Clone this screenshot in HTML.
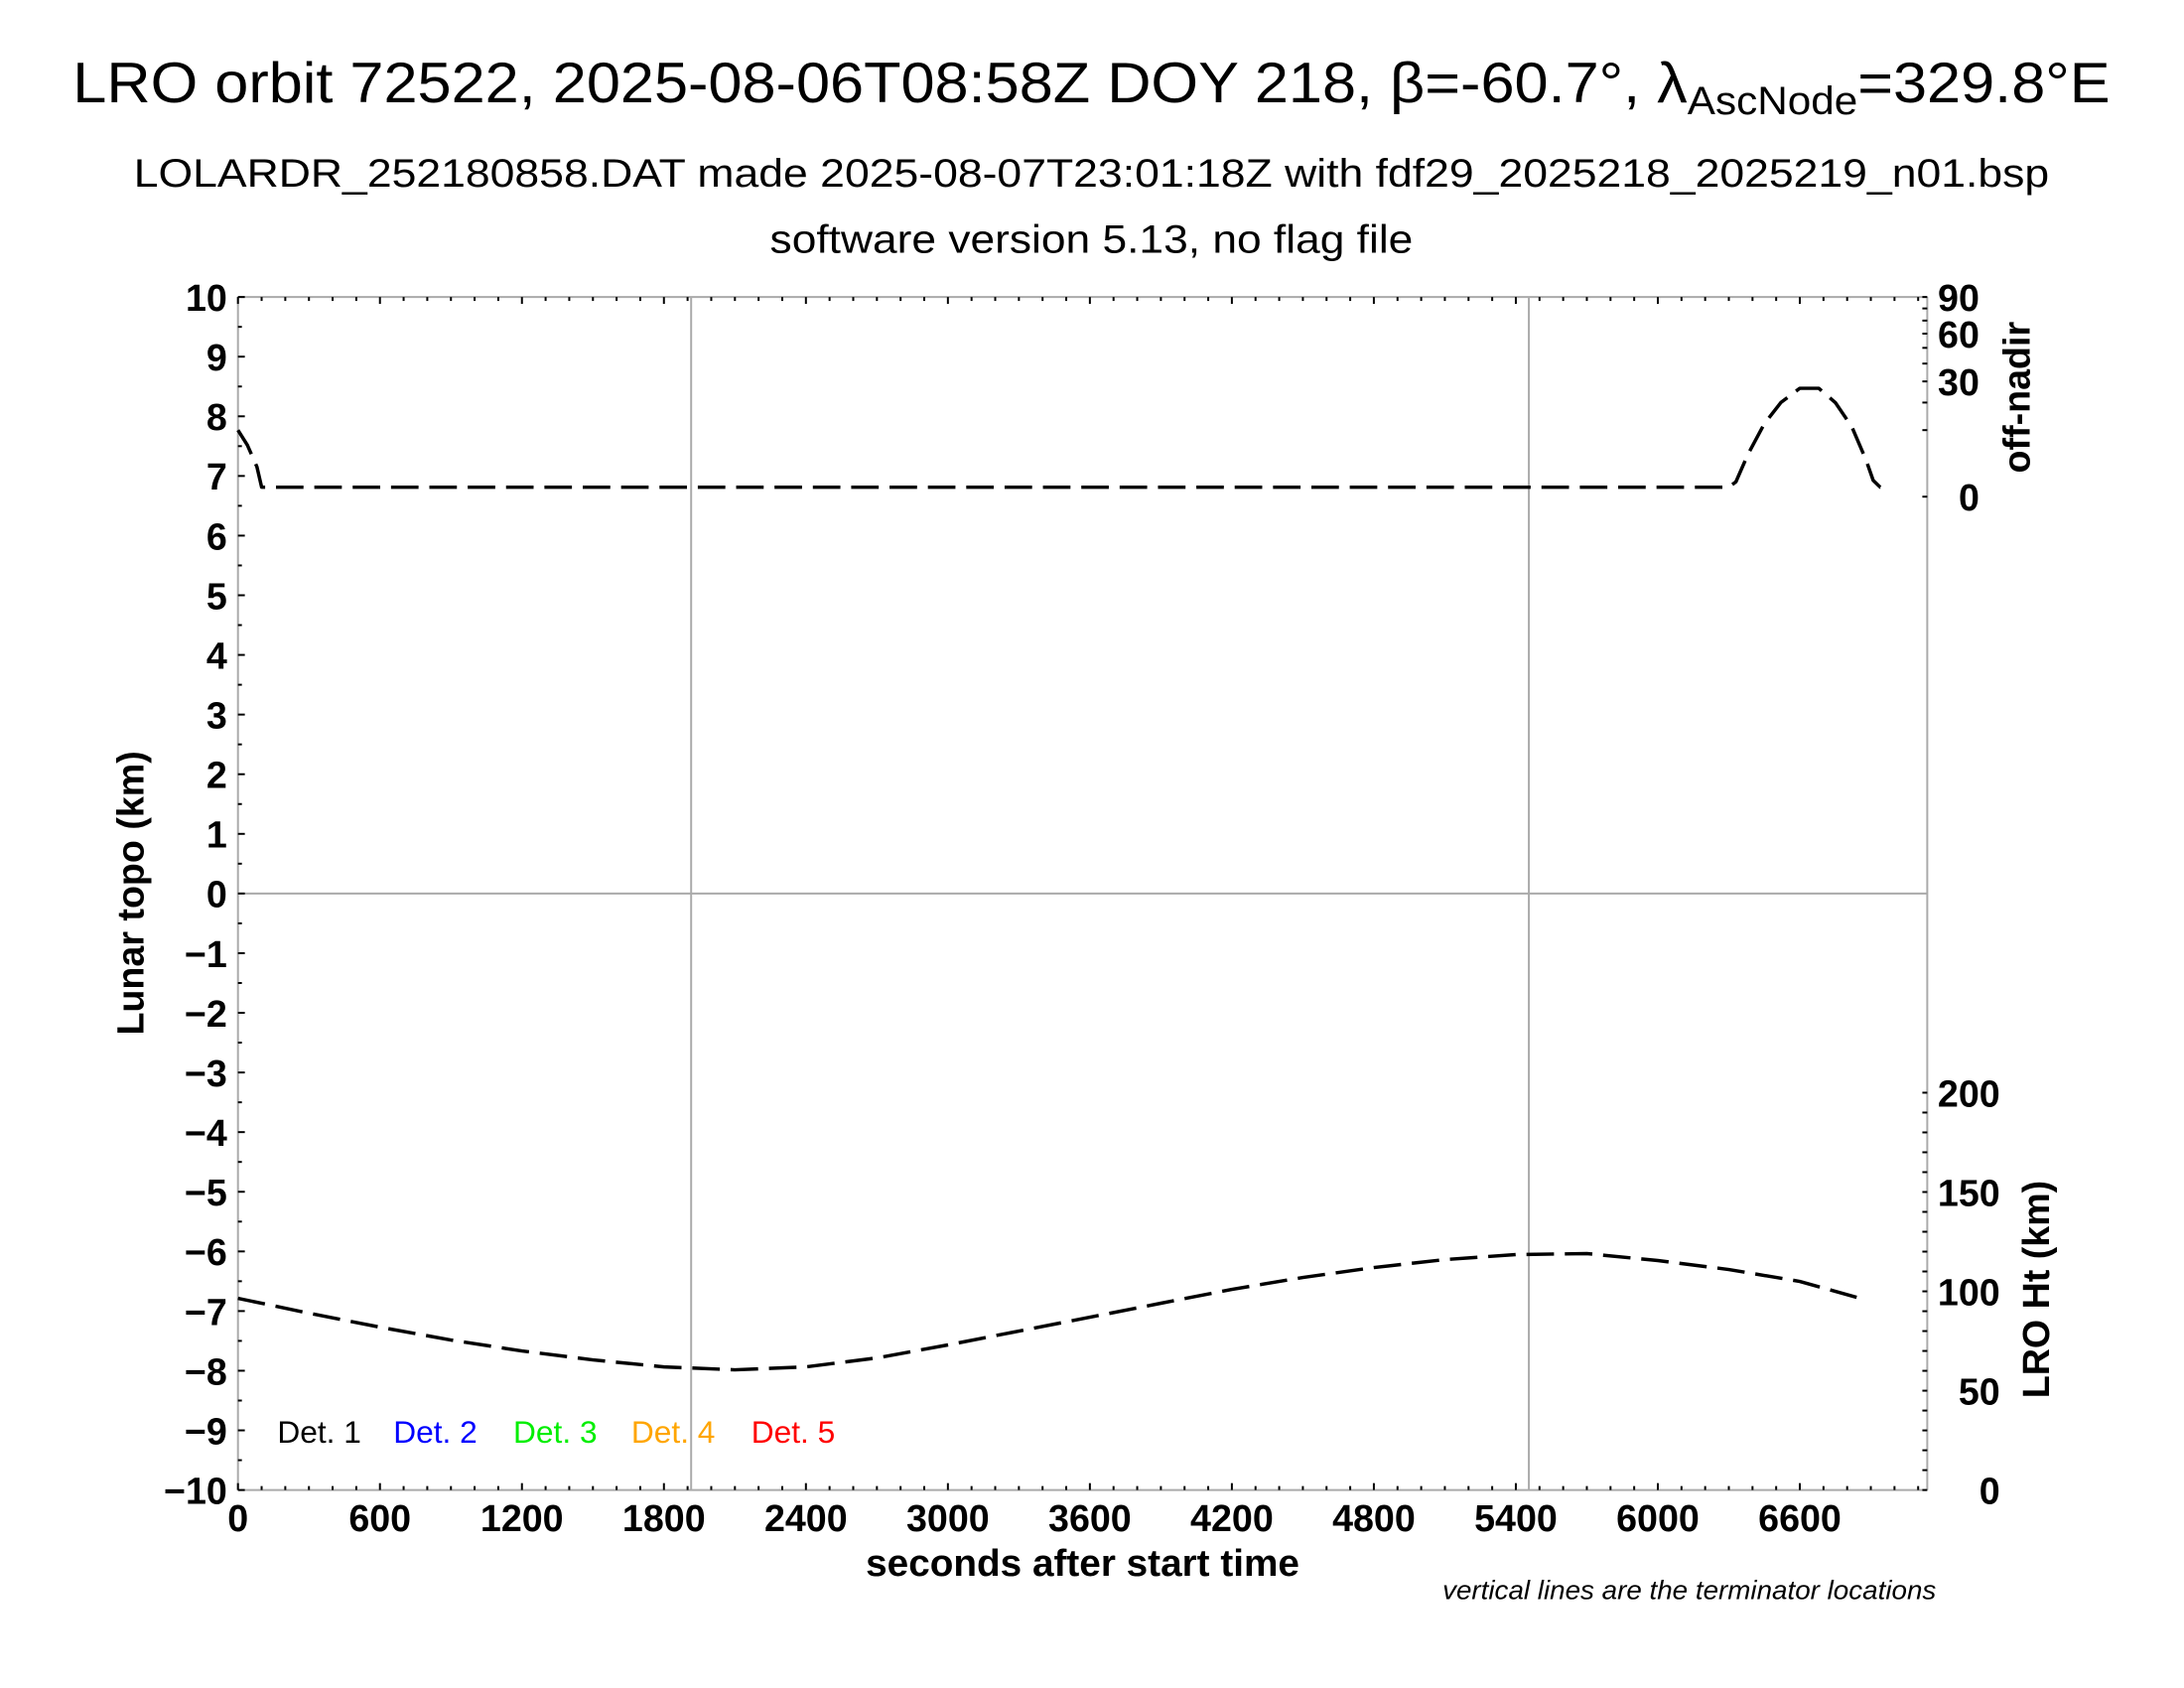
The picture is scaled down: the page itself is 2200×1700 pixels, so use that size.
<!DOCTYPE html>
<html><head><meta charset="utf-8"><style>
html,body{margin:0;padding:0;background:#fff;}
svg{display:block;font-family:"Liberation Sans",sans-serif;}
</style></head><body>
<svg id="chart" width="2200" height="1700" viewBox="0 0 2200 1700" xmlns="http://www.w3.org/2000/svg">
<rect width="2200" height="1700" fill="#fff"/>
<g transform="scale(0.9905)">
<text x="1110" y="104" font-size="58" text-anchor="middle" textLength="2072" lengthAdjust="spacingAndGlyphs">LRO orbit 72522, 2025-08-06T08:58Z DOY 218, β=-60.7°, λ<tspan font-size="40" dy="12">AscNode</tspan><tspan dy="-12">=329.8°E</tspan></text>
<text x="1110" y="190" font-size="40" text-anchor="middle" textLength="1948" lengthAdjust="spacingAndGlyphs">LOLARDR_252180858.DAT made 2025-08-07T23:01:18Z with fdf29_2025218_2025219_n01.bsp</text>
<text x="1110" y="257" font-size="40" text-anchor="middle" textLength="654" lengthAdjust="spacingAndGlyphs">software version 5.13, no flag file</text>
<g id="axes"></g>
<g id="series"></g>
<text x="1101" y="1602" font-size="38" font-weight="bold" text-anchor="middle" textLength="441" lengthAdjust="spacingAndGlyphs">seconds after start time</text>
<text transform="translate(146,908) rotate(-90)" font-size="38" font-weight="bold" text-anchor="middle">Lunar topo (km)</text>
<text transform="translate(2064,404) rotate(-90)" font-size="38" font-weight="bold" text-anchor="middle">off-nadir</text>
<text transform="translate(2084,1311) rotate(-90)" font-size="38" font-weight="bold" text-anchor="middle">LRO Ht (km)</text>
<text x="1969" y="1626" font-size="27" font-style="italic" text-anchor="end" textLength="502" lengthAdjust="spacingAndGlyphs">vertical lines are the terminator locations</text>
<g font-size="32">
<text x="282" y="1467" fill="#000">Det. 1</text>
<text x="400" y="1467" fill="#0000ff">Det. 2</text>
<text x="522" y="1467" fill="#00ee00">Det. 3</text>
<text x="642" y="1467" fill="#ffa500">Det. 4</text>
<text x="764" y="1467" fill="#ff0000">Det. 5</text>
</g>
</g>
</svg>
<script>
const xTicks = [0,600,1200,1800,2400,3000,3600,4200,4800,5400,6000,6600];
const yTicks = [10,9,8,7,6,5,4,3,2,1,0,-1,-2,-3,-4,-5,-6,-7,-8,-9,-10];
const yTickLabels = ["10","9","8","7","6","5","4","3","2","1","0","\u22121","\u22122","\u22123","\u22124","\u22125","\u22126","\u22127","\u22128","\u22129","\u221210"];
const nadirTicks = [0,30,60,90];
const htTicks = [0,50,100,150,200];
const terminators = [1915,5455];
const htTimes = [0,300,600,900,1200,1500,1800,2100,2400,2700,3000,3300,3600,3900,4200,4500,4800,5100,5400,5700,6000,6300,6600,6840];
const htValues = [96.5,89,82,75.5,70,65.5,62,60.5,62,66.5,73,80,87,94,101,107,112,116,118.5,119,115.5,111,105,97];
const nadirTimes = [0,40,80,100,200,1000,2000,3000,4000,5000,6000,6300,6330,6380,6450,6520,6600,6680,6750,6820,6880,6910,6940,6970];
const nadirValues = [10,6,2,0.2,0.2,0.2,0.2,0.2,0.2,0.2,0.2,0.2,0.5,4,12,20,26.5,26.5,20,11,3,0.6,0.2,0.2];

const L=242,R=1960,T=302,B=1515;
const X0=242, PX600=144.4;
function xs(t){return X0+t*PX600/600;}
function ys(v){return T+(10-v)*(B-T)/20;}
function nad(v){return 505-(505-302)*Math.sqrt(v/90);}
function hts(v){return 1515-v*(1515-1111)/200;}
const NS="http://www.w3.org/2000/svg";
const ax=document.getElementById('axes'), sr=document.getElementById('series');
function mk(tag,attrs,parent){const e=document.createElementNS(NS,tag);for(const k in attrs)e.setAttribute(k,attrs[k]);parent.appendChild(e);return e;}

let e;
e=mk('line',{x1:L,y1:T,x2:R,y2:T,stroke:'#aaa','stroke-width':2},ax);


e=mk('line',{x1:L,y1:T,x2:L,y2:B,stroke:'#aaa','stroke-width':2},ax);


e=mk('line',{x1:R,y1:T,x2:R,y2:B,stroke:'#aaa','stroke-width':2},ax);


e=mk('line',{x1:L,y1:B,x2:R,y2:B,stroke:'#aaa','stroke-width':2},ax);


e=mk('line',{x1:L,y1:ys(0),x2:R,y2:ys(0),stroke:'#aaa','stroke-width':2},ax);


terminators.forEach(t=>{
  const l=mk('line',{x1:xs(t),y1:T,x2:xs(t),y2:B,stroke:'#aaa','stroke-width':2},ax);
  
  
});
for(let t=0;t<=7100;t+=100){
  const big=t%600===0, x=xs(t);
  if(x>R)break;
  mk('line',{x1:x,y1:B,x2:x,y2:B-(big?7:4),stroke:'#000','stroke-width':2},ax);
  mk('line',{x1:x,y1:T,x2:x,y2:T+(big?7:4),stroke:'#000','stroke-width':2},ax);
}
xTicks.forEach(t=>{
  const tx=mk('text',{x:xs(t),y:1557,'font-size':38,'font-weight':'bold','text-anchor':'middle'},ax);
  tx.textContent=String(t);
  
  
});
for(let v=-10;v<=10;v+=0.5){
  const y=ys(v), big=Number.isInteger(v);
  mk('line',{x1:L,y1:y,x2:L+(big?7:4),y2:y,stroke:'#000','stroke-width':2},ax);
}
yTicks.forEach((v,i)=>{
  const tx=mk('text',{x:231,y:ys(v)+14,'font-size':38,'font-weight':'bold','text-anchor':'end'},ax);
  tx.textContent=yTickLabels[i];
  
  
});
[0,10,20,30,40,50,60,70,80,90].forEach(v=>{
  mk('line',{x1:R,y1:nad(v),x2:R-5,y2:nad(v),stroke:'#000','stroke-width':2},ax);
});
nadirTicks.forEach(v=>{
  const tx=mk('text',{x:2013,y:nad(v)+14,'font-size':38,'font-weight':'bold','text-anchor':'end'},ax);
  tx.textContent=String(v);
  
  
});
for(let v=0;v<=200;v+=10){
  mk('line',{x1:R,y1:hts(v),x2:R-5,y2:hts(v),stroke:'#000','stroke-width':2},ax);
}
htTicks.forEach(v=>{
  const tx=mk('text',{x:2034,y:hts(v)+14,'font-size':38,'font-weight':'bold','text-anchor':'end'},ax);
  tx.textContent=String(v);
  
  
});
const hp=mk('path',{d:htTimes.map((t,i)=>(i?'L':'M')+xs(t).toFixed(1)+','+hts(htValues[i]).toFixed(1)).join(''),fill:'none',stroke:'#000','stroke-width':3.5,'stroke-dasharray':'28,11','stroke-linejoin':'round'},sr);


const np=mk('path',{d:nadirTimes.map((t,i)=>(i?'L':'M')+xs(t).toFixed(1)+','+nad(nadirValues[i]).toFixed(1)).join(''),fill:'none',stroke:'#000','stroke-width':3.5,'stroke-dasharray':'28,11','stroke-linejoin':'round'},sr);


</script>
</body></html>
